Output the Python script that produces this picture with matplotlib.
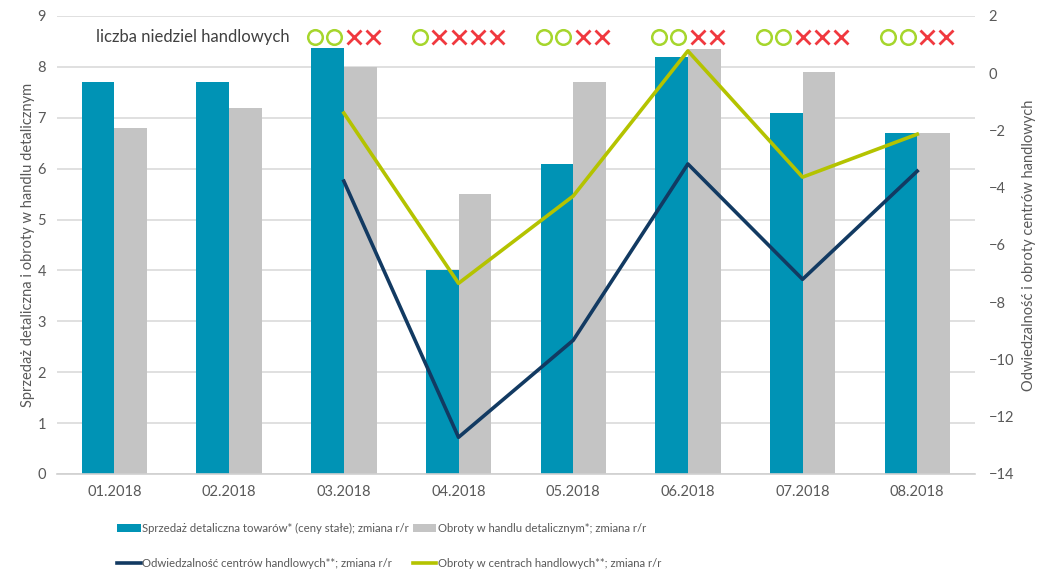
import matplotlib
matplotlib.use("Agg")
import matplotlib.pyplot as plt
import numpy as np
from matplotlib.transforms import blended_transform_factory, offset_copy

plt.rcParams['font.family'] = ['Lato', 'DejaVu Sans']

months = ["01.2018", "02.2018", "03.2018", "04.2018", "05.2018", "06.2018", "07.2018", "08.2018"]
sprzedaz = [7.7, 7.7, 8.37, 4.0, 6.1, 8.2, 7.1, 6.7]
obroty_handel = [6.8, 7.2, 8.0, 5.5, 7.7, 8.35, 7.9, 6.7]
odwiedzalnosc = [None, None, -3.77, -12.72, -9.33, -3.17, -7.2, -3.42]
obroty_centra = [None, None, -1.39, -7.34, -4.29, 0.78, -3.63, -2.13]
# Sundays: trading (circles) / non-trading (crosses) per month
niedziele_handlowe = [None, None, 2, 1, 2, 2, 2, 2]
niedziele_wolne = [None, None, 2, 4, 2, 2, 3, 2]

labels = ["Sprzedaż detaliczna towarów* (ceny stałe); zmiana r/r",
          "Obroty w handlu detalicznym*; zmiana r/r",
          "Odwiedzalność centrów handlowych**; zmiana r/r",
          "Obroty w centrach handlowych**; zmiana r/r"]

c_teal = "#0093B5"
c_gray = "#C4C4C4"
c_navy = "#123A62"
c_yg = "#B4C300"
c_circle = "#A6D62C"
c_cross = "#F0393F"
c_text = "#595959"

fig = plt.figure(figsize=(10.39, 5.71), dpi=100)
ax = fig.add_axes([0.055, 0.170, 0.883, 0.802])
ax2 = ax.twinx()

x = np.arange(len(months))
w = 0.285
b1 = ax.bar(x - w / 2, sprzedaz, w, color=c_teal, zorder=2, label=labels[0])
b2 = ax.bar(x + w / 2, obroty_handel, w, color=c_gray, zorder=2, label=labels[1])

ax.set_ylim(0, 9)
ax.set_yticks(range(0, 10))
ax.set_xlim(-0.5, len(months) - 0.5)
ax.set_xticks(x)
ax.set_xticklabels(months)
ax.yaxis.grid(True, color="#DADADA", linewidth=1.2, zorder=0)
ax.set_axisbelow(True)
for s in ["top", "left", "right"]:
    ax.spines[s].set_visible(False)
ax.spines["bottom"].set_color("#D0D0D0")
ax.spines["bottom"].set_linewidth(1.2)
ax.tick_params(axis="both", length=0, colors=c_text, labelsize=10.5, pad=8)
ax.set_ylabel("Sprzedaż detaliczna i obroty w handlu detalicznym", color=c_text, fontsize=10.5, labelpad=2)

ov = np.array([np.nan if v is None else v for v in odwiedzalnosc])
oc = np.array([np.nan if v is None else v for v in obroty_centra])
l1, = ax2.plot(x, ov, color=c_navy, linewidth=2.6, label=labels[2], zorder=3)
l2, = ax2.plot(x, oc, color=c_yg, linewidth=2.6, label=labels[3], zorder=3)
ax2.set_ylim(-14, 2)
ax2.set_yticks(range(-14, 3, 2))
for s in ["top", "left", "right", "bottom"]:
    ax2.spines[s].set_visible(False)
ax2.tick_params(axis="y", length=0, colors=c_text, labelsize=10.5, pad=10)
ax2.set_ylabel("Odwiedzalność i obroty centrów handlowych", color=c_text, fontsize=10.5, labelpad=6)

# top annotation row
base = blended_transform_factory(ax.transData, ax.transAxes)
ax.text(0.68, 0.954, "liczba niedziel handlowych", transform=base,
        ha="center", va="center", fontsize=12, color="#404040")
sp = 14
for i, (nc, nx) in enumerate(zip(niedziele_handlowe, niedziele_wolne)):
    if nc is None:
        continue
    n = nc + nx
    for k in range(n):
        dx = (k - (n - 1) / 2) * sp
        tr = offset_copy(base, fig=fig, x=dx, y=0, units="points")
        if k < nc:
            ax.plot([x[i]], [0.954], transform=tr, marker="o", markersize=10.5, markerfacecolor="none",
                    markeredgecolor=c_circle, markeredgewidth=1.8, clip_on=False, zorder=5)
        else:
            ax.plot([x[i]], [0.954], transform=tr, marker="x", markersize=9.5,
                    markeredgecolor=c_cross, markeredgewidth=2.0, clip_on=False, zorder=5)

fig.legend([b1, l1, b2, l2], [labels[0], labels[2], labels[1], labels[3]], ncol=2, loc="upper left",
           bbox_to_anchor=(0.108, 0.092), frameon=False, fontsize=8.2, labelcolor=c_text,
           handlelength=2.1, handleheight=0.6, handletextpad=0.15, columnspacing=0.3,
           labelspacing=2.1, borderaxespad=0)

fig.savefig("out.png", dpi=100)
